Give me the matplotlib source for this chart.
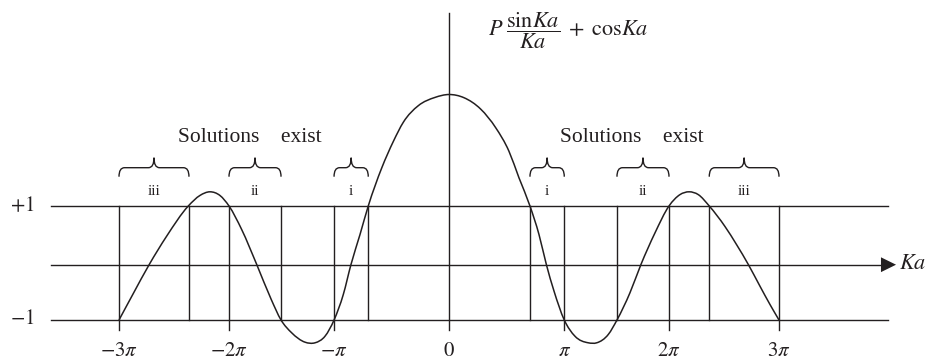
import numpy as np
import matplotlib
matplotlib.use("Agg")
import matplotlib.pyplot as plt
from matplotlib.path import Path
from matplotlib.patches import PathPatch, Polygon

plt.rcParams['font.family'] = ['Liberation Serif', 'DejaVu Serif']
plt.rcParams['mathtext.fontset'] = 'stix'

# Curve P*sin(Ka)/Ka + cos(Ka), sampled along the sketch (x in units of pi)
curve_x = [-3.0, -2.870, -2.725, -2.567, -2.37, -2.264, -2.173, -2.082, -2.0,
           -1.885, -1.748, -1.616, -1.527, -1.430, -1.309, -1.218, -1.127, -1.045,
           -0.961, -0.891, -0.809, -0.734, -0.611, -0.505, -0.415, -0.279, -0.127,
           0.0,
           0.136, 0.288, 0.425, 0.545, 0.636, 0.736, 0.818, 0.885, 0.955, 1.048,
           1.145, 1.266, 1.343, 1.448, 1.527, 1.645, 1.745, 1.873, 2.0, 2.1,
           2.183, 2.266, 2.366, 2.509, 2.615, 2.721, 2.827, 2.918, 3.0]
curve_y = [-1.0, -0.535, -0.026, 0.470, 1.0, 1.185, 1.249, 1.184, 1.0,
           0.588, -0.026, -0.640, -1.0, -1.225, -1.389, -1.400, -1.284, -1.0,
           -0.553, -0.026, 0.500, 1.0, 1.670, 2.137, 2.470, 2.760, 2.905,
           2.956,
           2.900, 2.700, 2.372, 1.961, 1.495, 1.0, 0.500, -0.026, -0.495, -1.0,
           -1.284, -1.400, -1.400, -1.254, -1.0, -0.523, -0.026, 0.530, 1.0, 1.200,
           1.249, 1.200, 1.0, 0.640, 0.320, -0.026, -0.407, -0.728, -1.0]

tick_pos = [-3.0, -2.0, -1.045, 0.0, 1.048, 2.0, 3.0]
tick_labels = [r'$-3\pi$', r'$-2\pi$', r'$-\pi$', r'$0$', r'$\pi$', r'$2\pi$', r'$3\pi$']

# Allowed bands: (start, end, label)
band_start = [-3.0, -2.0, -1.045, 0.736, 1.527, 2.366]
band_end = [-2.364, -1.527, -0.734, 1.048, 2.0, 3.0]
band_labels = ['iii', 'ii', 'i', 'i', 'ii', 'iii']

level_values = [1.0, -1.0]
level_labels = [r'$+1$', r'$-1$']

ink = '#231f20'
lw = 1.0

fig = plt.figure(figsize=(9.27, 3.64), dpi=100)
ax = fig.add_axes([0, 0, 1, 1])
ax.set_xlim(-449 / 110, 478 / 110)
ax.set_ylim(-101 / 57, 263 / 57)
ax.axis('off')

x_left, x_right = -3.618, 3.991
# +1 and -1 levels
for v, lab in zip(level_values, level_labels):
    ax.plot([x_left, x_right], [v, v], color=ink, lw=lw)
    ax.text(-3.88, v, lab, ha='center', va='center', fontsize=15, color=ink)

# Ka axis with arrowhead
axis_y = -0.03
ax.plot([x_left, 3.94], [axis_y, axis_y], color=ink, lw=lw)
ax.add_patch(Polygon([[3.927, axis_y + 0.13], [4.064, axis_y], [3.927, axis_y - 0.13]],
                     closed=True, color=ink, lw=0))
ax.text(4.09, axis_y, r'$Ka$', ha='left', va='center', fontsize=16, color=ink)

# vertical axis
ax.plot([0, 0], [-1.175, 4.386], color=ink, lw=lw)

# band boundaries
edges = sorted(set(band_start + band_end))
for e in edges:
    bottom = -1.175 if any(abs(e - t) < 1e-6 for t in tick_pos) else -1.0
    ax.plot([e, e], [1.0, bottom], color=ink, lw=lw)

# tick labels
for t, lab in zip(tick_pos, tick_labels):
    ax.text(t, -1.556, lab, ha='center', va='center', fontsize=15, color=ink)


def smooth_path(xs, ys):
    """Cubic Hermite Bezier path through the samples (x used as parameter)."""
    x = np.asarray(xs, float)
    y = np.asarray(ys, float)
    h = np.diff(x)
    d = np.diff(y) / h
    m = np.empty_like(x)
    m[0], m[-1] = d[0], d[-1]
    m[1:-1] = (h[:-1] * d[1:] + h[1:] * d[:-1]) / (h[:-1] + h[1:])
    verts = [(x[0], y[0])]
    codes = [Path.MOVETO]
    for i in range(len(x) - 1):
        hi = h[i] / 3.0
        verts += [(x[i] + hi, y[i] + m[i] * hi),
                  (x[i + 1] - hi, y[i + 1] - m[i + 1] * hi),
                  (x[i + 1], y[i + 1])]
        codes += [Path.CURVE4] * 3
    return Path(verts, codes)


ax.add_patch(PathPatch(smooth_path(curve_x, curve_y), fill=False,
                       edgecolor=ink, lw=1.1))


def brace(x0, x1, yb=1.514, ym=1.672, yt=1.847, r=0.05):
    xt = 0.5 * (x0 + x1)
    verts = [(x0, yb), (x0, ym), (x0 + r, ym),
             (xt - r, ym), (xt, ym), (xt, yt),
             (xt, ym), (xt + r, ym),
             (x1 - r, ym), (x1, ym), (x1, yb)]
    codes = [Path.MOVETO, Path.CURVE3, Path.CURVE3,
             Path.LINETO, Path.CURVE3, Path.CURVE3,
             Path.CURVE3, Path.CURVE3,
             Path.LINETO, Path.CURVE3, Path.CURVE3]
    return Path(verts, codes)


for s, e, lab in zip(band_start, band_end, band_labels):
    ax.add_patch(PathPatch(brace(s, e), fill=False, edgecolor=ink, lw=1.0))
    ax.text(0.5 * (s + e), 1.246, lab, ha='center', va='center',
            fontsize=11, color=ink)

ax.text(-1.814, 2.193, 'Solutions    exist', ha='center', va='center',
        fontsize=15.5, color=ink)
ax.text(1.664, 2.193, 'Solutions    exist', ha='center', va='center',
        fontsize=15.5, color=ink)

ax.text(0.355, 4.08, r'$P\;\dfrac{\mathrm{sin}Ka}{Ka}\;+\;\mathrm{cos}Ka$',
        ha='left', va='center', fontsize=16, color=ink)

fig.savefig('out.png', dpi=100)
